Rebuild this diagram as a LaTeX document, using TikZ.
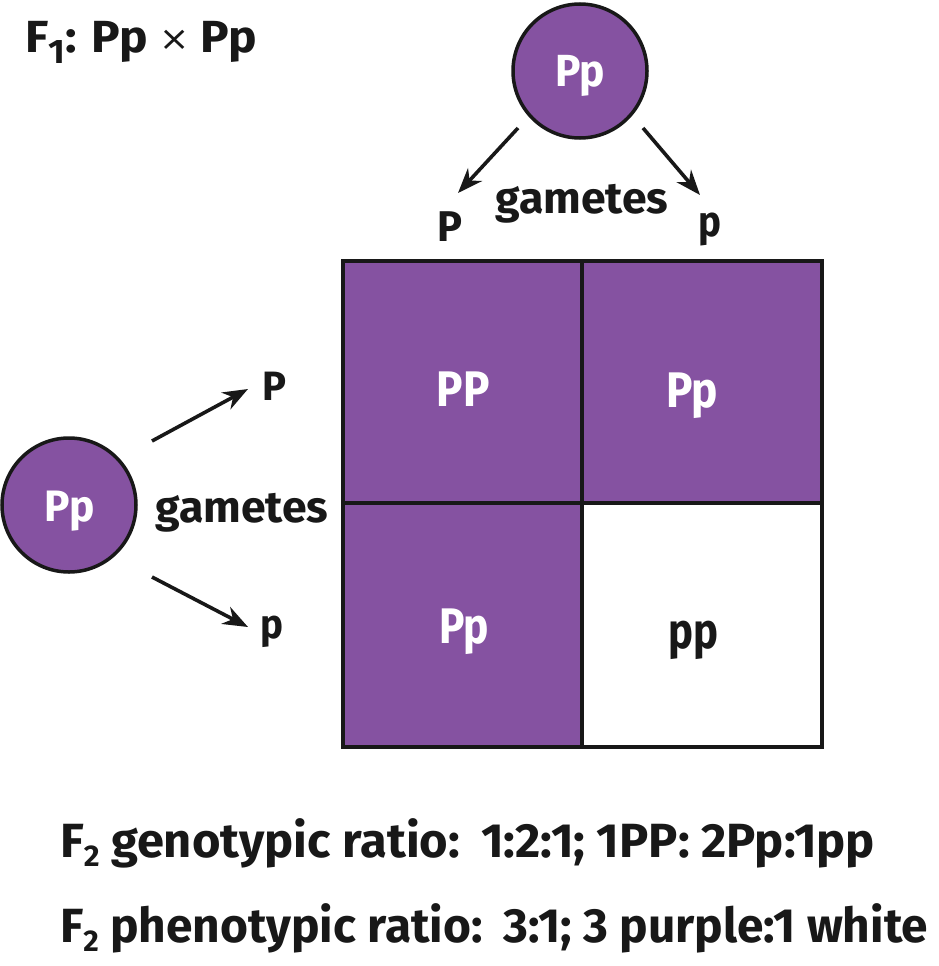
\documentclass[tikz,border=0pt]{standalone}
\usepackage{fontspec}
\setmainfont{Fira Sans}
\newfontfamily\symfont{DejaVu Sans}
\usepackage{graphicx}
\usetikzlibrary{arrows.meta}
\definecolor{purp}{RGB}{133,82,161}
\definecolor{ink}{RGB}{24,24,24}
\newcommand{\fitw}[2]{\resizebox{#1}{\height}{#2}}
\newcommand{\fsz}[1]{\fontsize{#1}{#1}\selectfont}
\tikzset{
  lbl/.style={inner sep=0pt, outer sep=0pt, text=ink, font=\bfseries},
  wlbl/.style={inner sep=0pt, outer sep=0pt, text=white, font=\bfseries},
  parent/.style={circle, draw=ink, fill=purp, line width=3.5pt, minimum size=134pt, inner sep=0pt},
  arr/.style={draw=ink, line width=3.6pt, -{Stealth[length=25pt,width=19pt,inset=8pt]}},
  gridline/.style={draw=ink, line width=4pt}
}
\begin{document}
\begin{tikzpicture}[x=1pt,y=-1pt]
\useasboundingbox (0,0) rectangle (938,966);
% title
\node[lbl, anchor=base west] (title) at (25,53)
  {\fitw{232pt}{\fsz{45}F\raisebox{-10pt}{\fsz{34}1}: Pp {\symfont\mdseries\fsz{34}\raisebox{2pt}{×}} Pp}};
% Punnett square
\fill[purp] (343,261) rectangle (822,747);
\fill[white] (582,503) rectangle (822,747);
\draw[gridline] (343,261) rectangle (822,747);
\draw[gridline] (582,261) -- (582,747);
\draw[gridline] (343,503) -- (822,503);
\node[wlbl] (cPP) at (463,389) {\fitw{53pt}{\fsz{50}PP}};
\node[wlbl, anchor=base] (cPp1) at (692,407) {\fitw{52pt}{\fsz{50}Pp}};
\node[wlbl, anchor=base] (cPp2) at (464,643) {\fitw{50pt}{\fsz{50}Pp}};
\node[lbl, anchor=base] (cpp) at (693,648) {\fitw{50pt}{\fsz{50}pp}};
% top parent
\node[parent] (top) at (580,71) {};
\node[wlbl, anchor=base] (topt) at (580,86) {\fitw{50pt}{\fsz{45}Pp}};
\node[lbl, anchor=base] (tg) at (582,213) {\fitw{173pt}{\fsz{44}gametes}};
\node[lbl] (tP) at (450,227) {\fitw{25pt}{\fsz{43}P}};
\node[lbl] (tp) at (710,229) {\fitw{23pt}{\fsz{43}p}};
\coordinate (ta1) at (518,128);
\coordinate (ta2) at (643,128);
\coordinate (tb1) at (458,193);
\coordinate (tb2) at (700,195);
\draw[arr] (ta1) -- (tb1);
\draw[arr] (ta2) -- (tb2);
% left parent
\node[parent] (left) at (69,505) {};
\node[wlbl, anchor=base] (leftt) at (70,521) {\fitw{50pt}{\fsz{44}Pp}};
\node[lbl, anchor=base] (lg) at (242,522) {\fitw{173pt}{\fsz{44}gametes}};
\node[lbl] (lP) at (274,386) {\fitw{24pt}{\fsz{41}P}};
\node[lbl] (lp) at (272,632) {\fitw{23pt}{\fsz{41}p}};
\coordinate (la1) at (152,441);
\coordinate (la2) at (152,577);
\coordinate (lb1) at (248,389);
\coordinate (lb2) at (248,627);
\draw[arr] (la1) -- (lb1);
\draw[arr] (la2) -- (lb2);
% ratios
\node[lbl, anchor=base west] (geno) at (60,857)
  {\fitw{815pt}{\fsz{48}F\raisebox{-9pt}{\fsz{30}2} genotypic ratio:\hspace{0.12em} 1:2:1; 1PP: 2Pp:1pp}};
\node[lbl, anchor=base west] (pheno) at (60,942)
  {\fitw{868pt}{\fsz{48}F\raisebox{-9pt}{\fsz{30}2} phenotypic ratio:\hspace{0.12em} 3:1; 3 purple:1 white}};
\end{tikzpicture}
\end{document}
